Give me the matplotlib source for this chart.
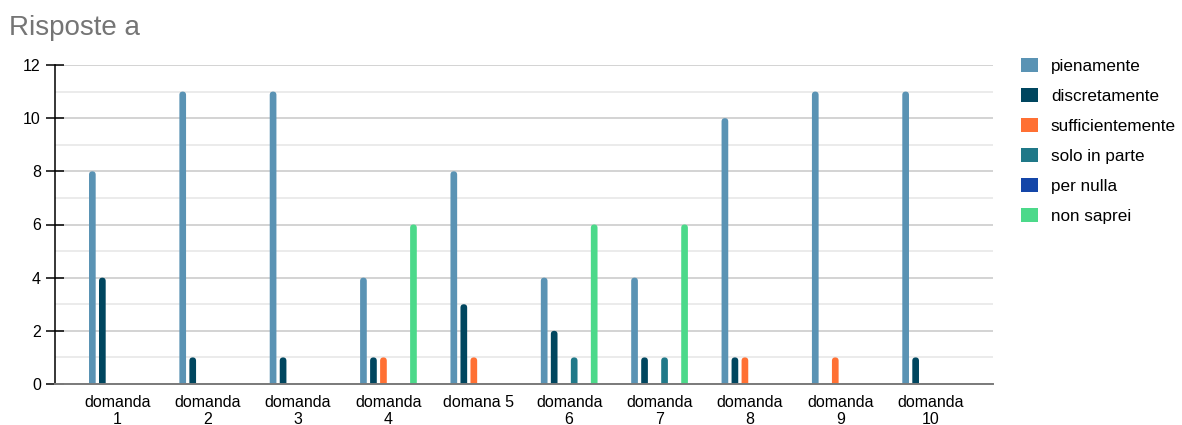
import matplotlib
matplotlib.use("Agg")
import matplotlib.pyplot as plt
import numpy as np
from matplotlib.patches import FancyBboxPatch, Patch

plt.rcParams['font.family'] = ['Liberation Sans', 'DejaVu Sans']

questions = ["domanda\n1", "domanda\n2", "domanda\n3", "domanda\n4", "domana 5",
             "domanda\n6", "domanda\n7", "domanda\n8", "domanda\n9", "domanda\n10"]

series_names = ["pienamente", "discretamente", "sufficientemente",
                "solo in parte", "per nulla", "non saprei"]
pienamente = [8, 11, 11, 4, 8, 4, 4, 10, 11, 11]
discretamente = [4, 1, 1, 1, 3, 2, 1, 1, 0, 1]
sufficientemente = [0, 0, 0, 1, 1, 0, 0, 1, 1, 0]
solo_in_parte = [0, 0, 0, 0, 0, 1, 1, 0, 0, 0]
per_nulla = [0, 0, 0, 0, 0, 0, 0, 0, 0, 0]
non_saprei = [0, 0, 0, 6, 0, 6, 6, 0, 0, 0]

colors = ["#5A93B4", "#00465F", "#FF7033", "#1F7888", "#1446A8", "#4CD98A"]
series = [pienamente, discretamente, sufficientemente, solo_in_parte, per_nulla, non_saprei]

fig = plt.figure(figsize=(11.82, 4.25), dpi=100)
ax = fig.add_axes([55 / 1182, 1 - 384 / 425, 938 / 1182, 319 / 425])

x = np.arange(len(questions))
slot = 0.1107
bar_w = 0.074
xlim = (-0.69, 9.69)
ylim = (0, 12)
ax.set_xlim(*xlim)
ax.set_ylim(*ylim)

# pixel aspect so that the rounded tops come out circular
px_x = 938 / (xlim[1] - xlim[0])
px_y = 319 / (ylim[1] - ylim[0])
aspect = px_x / px_y
r = bar_w / 2

for i, (vals, col) in enumerate(zip(series, colors)):
    offset = (i - 2.5) * slot
    for xi, v in zip(x, vals):
        if v <= 0:
            continue
        # start below the baseline so only the top corners show as rounded
        patch = FancyBboxPatch((xi + offset - bar_w / 2, -r * aspect), bar_w, v + r * aspect,
                               boxstyle=f"round,pad=0,rounding_size={r}",
                               mutation_aspect=aspect, facecolor=col, edgecolor="none",
                               zorder=3)
        ax.add_patch(patch)

# grid: even values darker, odd values lighter
ax.set_yticks(np.arange(0, 13, 2))
ax.set_yticks(np.arange(1, 13, 2), minor=True)
ax.grid(axis='y', which='major', color='#CCCCCC', linewidth=1.2, zorder=0)
ax.grid(axis='y', which='minor', color='#E8E8E8', linewidth=1.2, zorder=0)
ax.tick_params(axis='y', which='major', direction='inout', length=12.5, width=1.1,
               color='black', labelsize=11.5, pad=4)
ax.tick_params(axis='y', which='minor', length=0)

ax.set_xticks(x)
ax.set_xticklabels(questions, fontsize=11.5, linespacing=1.15)
ax.tick_params(axis='x', length=0, pad=8)

for s in ['top', 'right']:
    ax.spines[s].set_visible(False)
ax.spines['left'].set_color('black')
ax.spines['left'].set_linewidth(1.1)
ax.spines['bottom'].set_color('#7A7A7A')
ax.spines['bottom'].set_linewidth(1.4)
ax.spines['bottom'].set_zorder(4)

fig.text(9 / 1182, 1 - 28 / 425, "Risposte a", fontsize=20, color='#757575',
         ha='left', va='center')

handles = [Patch(facecolor=c, edgecolor='none') for c in colors]
fig.legend(handles, series_names, loc='upper left',
           bbox_to_anchor=(1021 / 1182, 1 - 58 / 425), frameon=False,
           fontsize=12.3, handlelength=1.0, handleheight=0.9,
           handletextpad=0.75, labelspacing=0.82, borderaxespad=0, borderpad=0)

fig.savefig("out.png", dpi=100, facecolor='white')
